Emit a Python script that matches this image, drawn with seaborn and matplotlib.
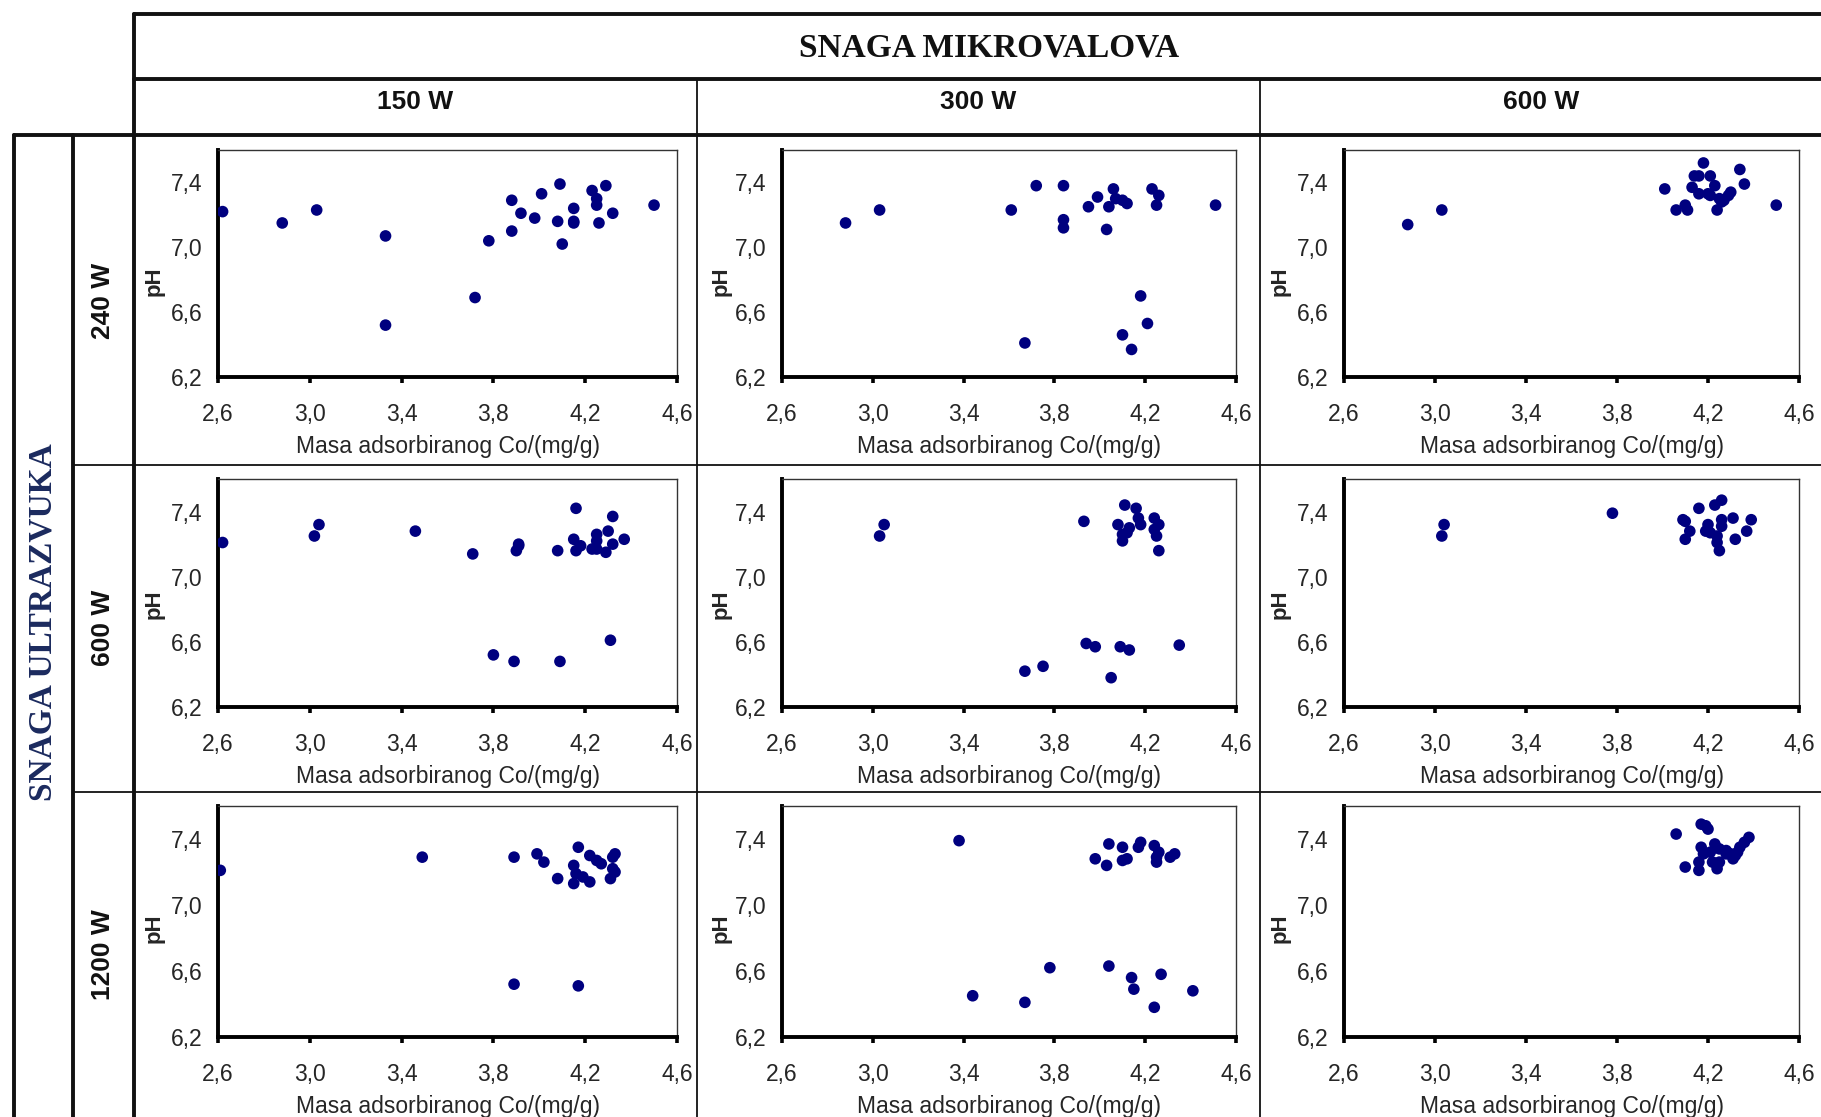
import numpy as np
import pandas as pd
import matplotlib
matplotlib.use("Agg")
import matplotlib.pyplot as plt
import seaborn as sns

# ---------------- data ----------------
micro_powers = ["150 W", "300 W", "600 W"]
ultra_powers = ["240 W", "600 W", "1200 W"]
x_ticks = [2.6, 3.0, 3.4, 3.8, 4.2, 4.6]
x_tick_labels = ["2,6", "3,0", "3,4", "3,8", "4,2", "4,6"]
y_ticks = [6.2, 6.6, 7.0, 7.4]
y_tick_labels = ["6,2", "6,6", "7,0", "7,4"]

# ultrasound 240 W
x_240_150 = [2.62, 2.88, 3.03, 3.33, 3.33, 3.72, 3.78, 3.88, 3.88, 3.92, 3.98, 4.01, 4.09,
             4.08, 4.10, 4.15, 4.15, 4.15, 4.23, 4.25, 4.25, 4.26, 4.29, 4.32, 4.50]
y_240_150 = [7.22, 7.15, 7.23, 7.07, 6.52, 6.69, 7.04, 7.10, 7.29, 7.21, 7.18, 7.33, 7.39,
             7.16, 7.02, 7.24, 7.16, 7.15, 7.35, 7.30, 7.26, 7.15, 7.38, 7.21, 7.26]
x_240_300 = [2.88, 3.03, 3.61, 3.72, 3.84, 3.84, 3.84, 3.67, 3.95, 3.99, 4.03, 4.04,
             4.06, 4.07, 4.10, 4.12, 4.18, 4.21, 4.10, 4.14, 4.23, 4.26, 4.25, 4.51]
y_240_300 = [7.15, 7.23, 7.23, 7.38, 7.38, 7.17, 7.12, 6.41, 7.25, 7.31, 7.11, 7.25,
             7.36, 7.30, 7.29, 7.27, 6.70, 6.53, 6.46, 6.37, 7.36, 7.32, 7.26, 7.26]
x_240_600 = [2.88, 3.03, 4.01, 4.06, 4.10, 4.11, 4.13, 4.14, 4.16, 4.18, 4.16, 4.21,
             4.20, 4.21, 4.23, 4.24, 4.25, 4.26, 4.27, 4.29, 4.30, 4.34, 4.36, 4.50]
y_240_600 = [7.14, 7.23, 7.36, 7.23, 7.26, 7.23, 7.37, 7.44, 7.44, 7.52, 7.33, 7.44,
             7.33, 7.32, 7.38, 7.23, 7.30, 7.28, 7.29, 7.32, 7.34, 7.48, 7.39, 7.26]

# ultrasound 600 W
x_600_150 = [2.62, 3.02, 3.04, 3.46, 3.71, 3.80, 3.89, 3.90, 3.91, 3.91, 4.08, 4.09, 4.16,
             4.15, 4.16, 4.18, 4.23, 4.25, 4.25, 4.25, 4.29, 4.30, 4.31, 4.32, 4.32, 4.37]
y_600_150 = [7.21, 7.25, 7.32, 7.28, 7.14, 6.52, 6.48, 7.16, 7.19, 7.20, 7.16, 6.48, 7.42,
             7.23, 7.16, 7.19, 7.17, 7.26, 7.22, 7.17, 7.15, 7.28, 6.61, 7.37, 7.20, 7.23]
x_600_300 = [3.03, 3.05, 3.93, 3.94, 3.98, 3.67, 3.75, 4.05, 4.09, 4.13, 4.08, 4.11, 4.10,
             4.10, 4.12, 4.13, 4.16, 4.17, 4.18, 4.24, 4.24, 4.25, 4.26, 4.26, 4.35]
y_600_300 = [7.25, 7.32, 7.34, 6.59, 6.57, 6.42, 6.45, 6.38, 6.57, 6.55, 7.32, 7.44, 7.26,
             7.22, 7.27, 7.30, 7.42, 7.36, 7.32, 7.36, 7.29, 7.25, 7.32, 7.16, 6.58]
x_600_600 = [3.03, 3.04, 3.78, 4.09, 4.10, 4.12, 4.10, 4.16, 4.19, 4.20, 4.21,
             4.23, 4.24, 4.24, 4.25, 4.26, 4.26, 4.26, 4.31, 4.32, 4.37, 4.39]
y_600_600 = [7.25, 7.32, 7.39, 7.35, 7.34, 7.28, 7.23, 7.42, 7.28, 7.32, 7.27,
             7.44, 7.25, 7.21, 7.16, 7.47, 7.35, 7.31, 7.36, 7.23, 7.28, 7.35]

# ultrasound 1200 W
x_1200_150 = [2.61, 3.49, 3.89, 3.89, 3.99, 4.02, 4.08, 4.15, 4.15, 4.16, 4.17, 4.17,
              4.19, 4.22, 4.22, 4.25, 4.27, 4.31, 4.32, 4.33, 4.32, 4.33]
y_1200_150 = [7.21, 7.29, 7.29, 6.52, 7.31, 7.26, 7.16, 7.13, 7.24, 7.19, 7.35, 6.51,
              7.17, 7.14, 7.30, 7.27, 7.25, 7.16, 7.22, 7.31, 7.29, 7.20]
x_1200_300 = [3.38, 3.44, 3.67, 3.78, 3.98, 4.03, 4.04, 4.04, 4.10, 4.10, 4.12, 4.14,
              4.15, 4.17, 4.18, 4.24, 4.26, 4.25, 4.25, 4.24, 4.27, 4.31, 4.33, 4.41]
y_1200_300 = [7.39, 6.45, 6.41, 6.62, 7.28, 7.24, 7.37, 6.63, 7.35, 7.27, 7.28, 6.56,
              6.49, 7.35, 7.38, 7.36, 7.32, 7.26, 7.29, 6.38, 6.58, 7.29, 7.31, 6.48]
x_1200_600 = [4.06, 4.10, 4.16, 4.16, 4.17, 4.17, 4.19, 4.20, 4.18, 4.21, 4.23, 4.22,
              4.25, 4.24, 4.25, 4.28, 4.30, 4.31, 4.32, 4.34, 4.36, 4.38, 4.28, 4.33]
y_1200_600 = [7.43, 7.23, 7.21, 7.26, 7.35, 7.49, 7.48, 7.46, 7.31, 7.32, 7.37, 7.26,
              7.26, 7.22, 7.34, 7.31, 7.31, 7.28, 7.30, 7.35, 7.38, 7.41, 7.33, 7.32]

panel_data = {
    ("240 W", "150 W"): (x_240_150, y_240_150),
    ("240 W", "300 W"): (x_240_300, y_240_300),
    ("240 W", "600 W"): (x_240_600, y_240_600),
    ("600 W", "150 W"): (x_600_150, y_600_150),
    ("600 W", "300 W"): (x_600_300, y_600_300),
    ("600 W", "600 W"): (x_600_600, y_600_600),
    ("1200 W", "150 W"): (x_1200_150, y_1200_150),
    ("1200 W", "300 W"): (x_1200_300, y_1200_300),
    ("1200 W", "600 W"): (x_1200_600, y_1200_600),
}
frames = []
for (u, m), (xs, ys) in panel_data.items():
    frames.append(pd.DataFrame({"ultra": u, "micro": m, "masa": xs, "pH": ys}))
df = pd.concat(frames, ignore_index=True)

# ---------------- style ----------------
sns.set_theme(style="white")
plt.rcParams["font.family"] = ["Liberation Sans", "DejaVu Sans"]

W, H, DPI = 1821, 1117, 100
fig = plt.figure(figsize=(W / DPI, H / DPI), dpi=DPI)
fig.patch.set_facecolor("white")

# background layer in pixel coordinates for the table frame
bg = fig.add_axes([0, 0, 1, 1], zorder=0)
bg.set_xlim(0, W)
bg.set_ylim(H, 0)
bg.axis("off")

thick, thin = 2.8, 1.3
lc = "#111111"
bg.plot([134, W], [14, 14], color=lc, lw=thick)
bg.plot([134, W], [79, 79], color=lc, lw=thick)
bg.plot([14, W], [135, 135], color=lc, lw=thick)
bg.plot([73, W], [465, 465], color=lc, lw=thin)
bg.plot([73, W], [792, 792], color=lc, lw=thin)
bg.plot([134, 134], [14, H], color=lc, lw=thick)
bg.plot([14, 14], [135, H], color=lc, lw=thick)
bg.plot([73, 73], [135, H], color=lc, lw=thick)
bg.plot([697, 697], [79, H], color=lc, lw=thin)
bg.plot([1260, 1260], [79, H], color=lc, lw=thin)

title_font = ["Liberation Serif", "DejaVu Serif"]
hdr_font = ["Liberation Sans", "DejaVu Sans"]
bg.text(989, 48, "SNAGA MIKROVALOVA", ha="center", va="center", fontsize=24,
        fontweight="bold", family=title_font, color="#111111")
bg.text(43, 622, "SNAGA ULTRAZVUKA", ha="center", va="center", fontsize=24,
        fontweight="bold", family=title_font, color="#1b2a5e", rotation=90)
col_centers = [415, 978, 1541]
row_centers = [301, 628, 955]
for name, cx in zip(micro_powers, col_centers):
    bg.text(cx, 102, name, ha="center", va="center", fontsize=19,
            fontweight="bold", family=hdr_font, color="#111111")
for name, cy in zip(ultra_powers, row_centers):
    bg.text(103, cy, name, ha="center", va="center", fontsize=19,
            fontweight="bold", family=hdr_font, color="#111111", rotation=90)

# ---------------- panels ----------------
col_x = [(218, 677), (782, 1236), (1344, 1799)]
row_y = [(150, 377), (479, 707), (806, 1037)]
ylab_frac = [0.42, 0.45, 0.47]
ylab_off = [-64, -61, -64]

for i, u in enumerate(ultra_powers):
    for j, m in enumerate(micro_powers):
        x0, x1 = col_x[j]
        y0, y1 = row_y[i]
        w, h = x1 - x0, y1 - y0
        ax = fig.add_axes([x0 / W, 1 - y1 / H, w / W, h / H], zorder=2)
        sub = df[(df["ultra"] == u) & (df["micro"] == m)]
        sns.scatterplot(data=sub, x="masa", y="pH", ax=ax, color="#00007f",
                        s=70, edgecolor="none", linewidth=0, zorder=3)
        ax.set_xlim(2.6, 4.6)
        ax.set_ylim(6.2, 7.6)
        ax.set_xticks(x_ticks)
        ax.set_xticklabels(x_tick_labels)
        ax.set_yticks(y_ticks)
        ax.set_yticklabels(y_tick_labels)
        for s in ["left", "bottom"]:
            ax.spines[s].set_linewidth(2.8)
            ax.spines[s].set_color("black")
        for s in ["top", "right"]:
            ax.spines[s].set_linewidth(1.0)
            ax.spines[s].set_color("#333333")
        ax.tick_params(axis="x", direction="out", length=4, width=2.6,
                       color="black", pad=15, labelsize=16.5, bottom=True)
        ax.tick_params(axis="y", length=0, pad=11, labelsize=16.5, left=True)
        ax.set_xlabel("Masa adsorbiranog Co/(mg/g)", fontsize=16.5)
        ax.xaxis.set_label_coords(0.5, -69 / h)
        ax.xaxis.label.set_verticalalignment("center")
        ax.set_ylabel("pH", fontsize=16, fontweight="bold")
        ax.yaxis.set_label_coords(ylab_off[j] / w, ylab_frac[i])
        ax.yaxis.label.set_verticalalignment("center")
        ax.grid(False)
        ax.set_facecolor("white")

fig.savefig("out.png", dpi=DPI, facecolor="white")
